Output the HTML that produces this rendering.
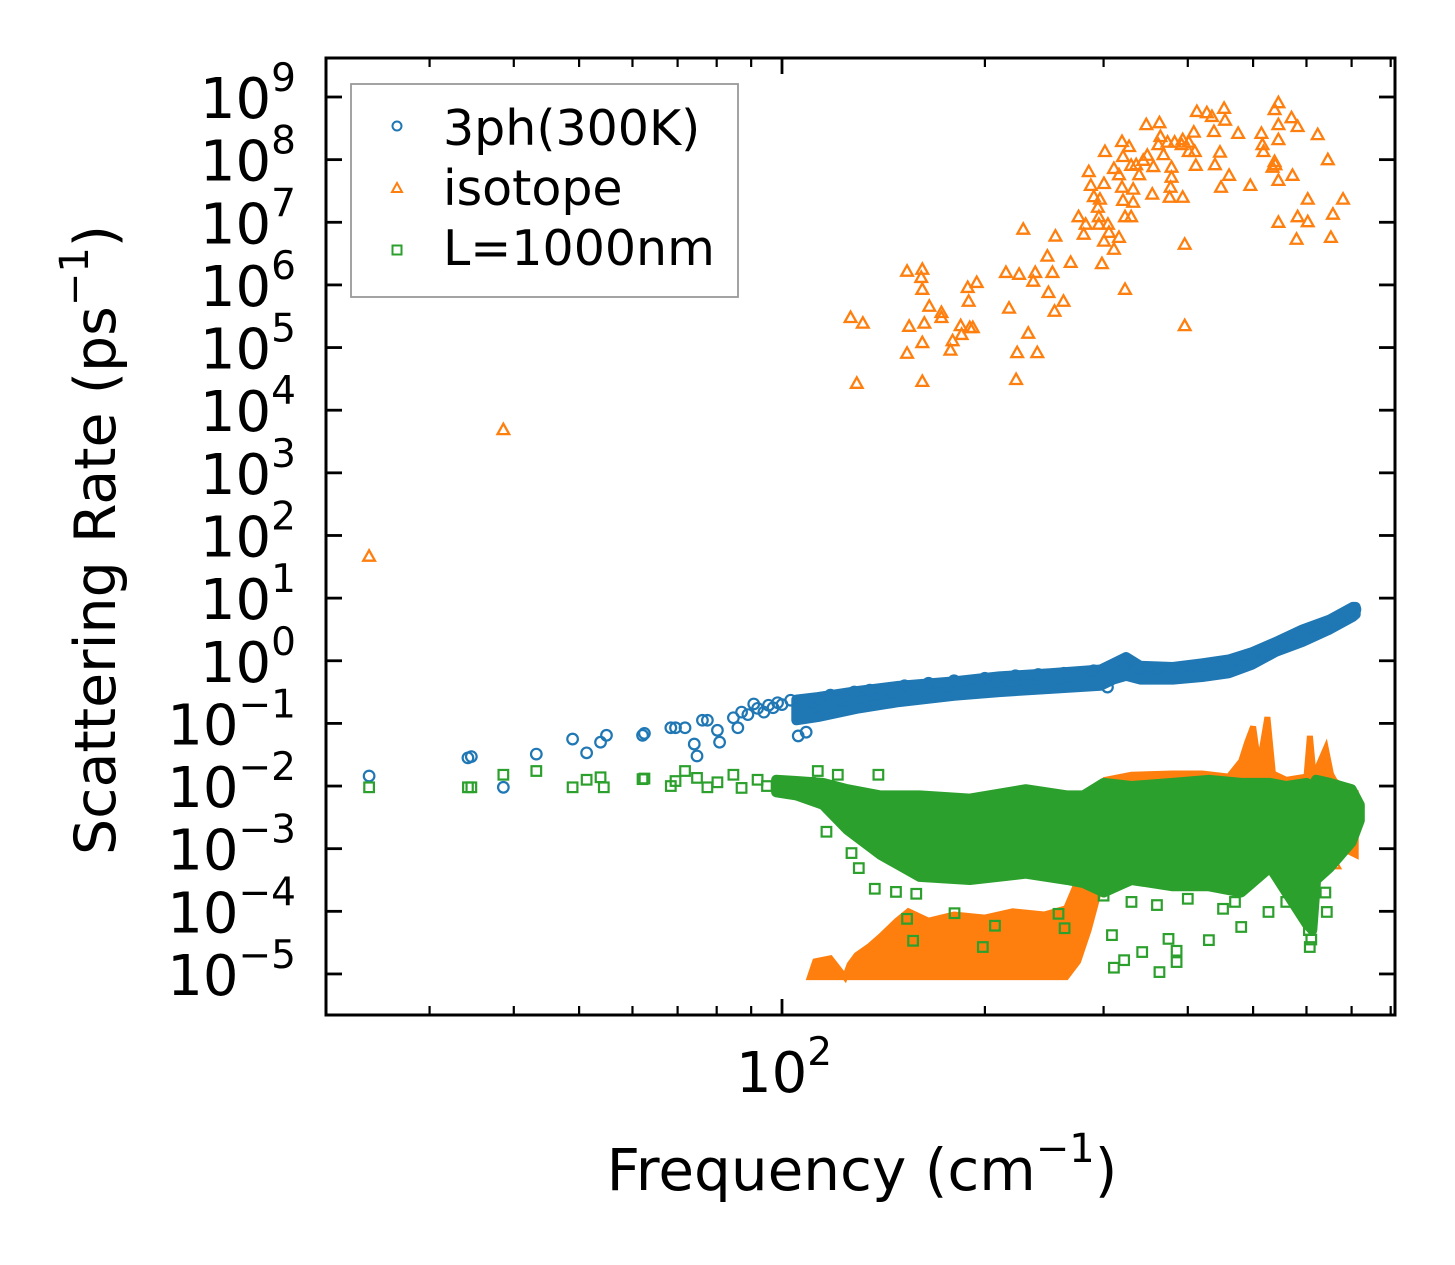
<!DOCTYPE html>
<html><head><meta charset="utf-8"><style>
html,body{margin:0;padding:0;background:#fff;}
svg{display:block;font-family:"DejaVu Sans","Liberation Sans",sans-serif;}
</style></head><body>
<svg id="chart" width="1455" height="1265" viewBox="0 0 1455 1265" xmlns="http://www.w3.org/2000/svg">
<rect width="1455" height="1265" fill="#fff"/>
<g id="marks"></g>
<g id="axes"></g>
</svg>
<script>
// ---- data (frequency in cm^-1, rate as log10 exponent) ----
const yTicks = [9,8,7,6,5,4,3,2,1,0,-1,-2,-3,-4,-5];
const xMinorTicks = [30,40,50,60,70,80,90,200,300,400,500,600,700,800];
const xMajorTicks = [100];
const seriesNames = ["3ph(300K)","isotope","L=1000nm"];

const blueF = [24.4,34.2,34.6,38.6,43.2,48.9,51.3,53.8,54.9,62.1,62.5,68.4,69.5,71.8,74.1,74.8,76.2,77.5,80.2,80.8,84.7,86,87.1,89.0,90.8,92,94.0,95.5,97.0,98.5,100,103,105.7,108.6,110,113.2,118,122,128,135,143,152,165,180,200,222,240,262,290,304,318,324,335,350,372,392,410,440,470,499,520,550,580,610,640,670,700,708];
const blueV = [-1.84,-1.55,-1.53,-2.02,-1.49,-1.25,-1.47,-1.30,-1.19,-1.19,-1.16,-1.07,-1.07,-1.07,-1.33,-1.52,-0.95,-0.95,-1.11,-1.30,-0.91,-1.07,-0.82,-0.86,-0.69,-0.76,-0.82,-0.71,-0.75,-0.67,-0.70,-0.63,-1.20,-1.14,-0.82,-0.63,-0.55,-0.62,-0.50,-0.47,-0.45,-0.40,-0.36,-0.32,-0.28,-0.24,-0.22,-0.20,-0.16,-0.42,-0.05,0.02,-0.12,-0.14,-0.16,-0.12,-0.10,-0.08,-0.02,0.05,0.12,0.24,0.36,0.48,0.55,0.66,0.80,0.82];
const blueBandF  = [105,113,130,149,180,210,250,297,310,324,340,380,420,460,499,540,592,650,703,710];
const blueBandHi = [-0.62,-0.58,-0.48,-0.40,-0.33,-0.25,-0.20,-0.14,-0.04,0.06,-0.08,-0.10,-0.04,0.02,0.14,0.30,0.50,0.66,0.86,0.86];
const blueBandLo = [-0.95,-0.90,-0.76,-0.66,-0.56,-0.50,-0.45,-0.40,-0.30,-0.24,-0.30,-0.30,-0.26,-0.20,-0.06,0.14,0.30,0.50,0.70,0.74];

const orangeF = [24.4,38.6,126.4,131.8,129.1,153.3,161.5,160.9,161.5,165.4,172.4,172.4,154.4,162.6,161.5,153.3,161.5,188.6,194.5,189.2,184.1,189.9,191.9,184.7,179.1,177.8,214.9,224.8,237.5,235.9,217.2,231.9,223.3,239.2,222.5,228.0,254.5,247.6,251.9,268.1,248.5,261.6,253.7,285.2,287.2,300.4,290.2,296.3,294.2,295.2,275.4,282.2,280.3,295.2,304.5,305.5,300.4,316.2,310.8,298.3,301.4,319.5,327.3,320.6,310.8,316.2,319.5,331.9,320.6,331.9,322.8,329.6,329.6,338.8,335.3,343.5,348.3,355.6,354.3,322.8,347.1,363.1,364.3,361.8,373.3,368.2,378.4,378.4,377.2,375.9,393.1,393.1,382.4,391.7,401.3,408.3,401.3,409.7,411.1,395.8,395.8,412.6,426.9,434.4,452.8,454.3,437.4,475.1,446.5,438.9,460.6,448.1,495.2,514.4,516.2,518.0,538.0,545.1,545.1,545.1,538.0,539.5,534.3,545.1,570.1,582.1,572.0,545.1,582.1,602.6,602.6,580.0,623.5,645.4,679.8,656.7,652.2,429.9,451.2,660,660,652];
const orangeV = [1.66,3.68,5.47,5.38,4.42,6.21,6.24,6.11,5.92,5.65,5.55,5.47,5.33,5.38,5.07,4.90,4.45,5.95,6.03,5.73,5.34,5.31,5.31,5.20,5.10,4.95,6.19,6.16,6.19,6.05,5.62,5.22,4.91,4.91,4.48,6.88,6.77,6.45,6.19,6.35,5.87,5.73,5.57,7.80,7.58,7.61,7.40,7.36,7.23,7.08,7.08,6.96,6.80,6.96,6.96,6.83,6.69,6.75,6.56,6.33,8.12,8.28,8.20,8.04,7.85,7.75,7.55,7.52,7.34,7.31,7.08,7.08,7.90,7.75,7.91,7.98,8.06,7.88,7.44,5.92,8.55,8.58,8.36,8.23,8.27,8.07,7.87,7.71,7.55,7.39,8.31,7.39,8.27,8.23,8.27,8.43,8.12,8.12,7.90,6.64,5.34,8.76,8.74,8.68,8.81,8.62,8.44,8.41,8.11,7.91,7.74,7.55,7.58,8.41,8.23,8.12,8.79,8.90,8.55,8.31,7.96,7.91,7.87,7.66,8.66,8.52,7.74,6.99,7.08,7.36,7.00,6.72,8.39,7.99,7.36,7.12,6.75,-1.95,-1.95,-3.10,-3.25,-1.85];
const orangeBandF  = [110,112,118,124,126,129,135,140,148,154,165,180,200,220,245,264,275,285,295,302,330,380,420,460,480,490,500,510,525,535,560,600,607,615,641,655,680,710];
const orangeBandHi = [-5.05,-4.80,-4.75,-5.05,-4.85,-4.70,-4.55,-4.40,-4.15,-4.00,-4.15,-4.05,-4.10,-4.00,-4.05,-3.95,-3.50,-3.00,-2.40,-1.90,-1.82,-1.80,-1.80,-1.85,-1.60,-1.30,-1.05,-1.70,-0.90,-1.80,-1.90,-1.85,-1.20,-1.85,-1.40,-1.90,-2.00,-2.10];
const orangeBandLo = [-5.05,-5.05,-5.05,-5.05,-5.05,-5.05,-5.05,-5.05,-5.05,-5.05,-5.05,-5.05,-5.05,-5.05,-5.05,-5.05,-4.80,-4.30,-3.70,-3.50,-3.40,-3.40,-3.30,-3.20,-3.00,-2.60,-2.50,-2.80,-2.60,-2.80,-2.90,-3.00,-2.80,-3.00,-3.10,-3.10,-3.00,-3.10];

const greenF = [24.4,34.2,34.6,38.6,43.2,48.9,51.3,53.8,54.4,62.1,62.5,68.4,69.5,71.8,74.8,77.5,80.2,84.7,87.1,92,95,100,105.7,110,113,117,121,125,139,116.4,126.8,130.0,137.3,147.6,158.2,153.3,156.5,180.3,198.6,207.0,257.2,262.6,308.7,310.8,321.8,342.3,363.1,374.5,385.0,385.0,429.9,451.2,480.1,527.0,606.8,643.2,605,610,300,330,360,400,470,560,590,640];
const greenV = [-2.02,-2.02,-2.02,-1.82,-1.76,-2.02,-1.90,-1.86,-2.02,-1.89,-1.88,-2.00,-1.92,-1.76,-1.87,-2.02,-1.94,-1.82,-2.03,-1.90,-2.00,-2.06,-2.00,-1.95,-1.76,-2.06,-1.82,-2.18,-1.82,-2.73,-3.07,-3.31,-3.64,-3.69,-3.72,-4.12,-4.47,-4.03,-4.57,-4.23,-4.04,-4.27,-4.38,-4.90,-4.78,-4.65,-4.97,-4.44,-4.63,-4.81,-4.46,-3.96,-4.25,-4.01,-4.57,-4.01,-4.30,-4.45,-3.75,-3.85,-3.90,-3.80,-3.85,-3.85,-3.80,-3.70];
const greenBandF  = [98,105,115,125,140,160,190,230,265,280,300,330,380,430,480,530,560,600,612,620,650,700,720];
const greenBandHi = [-1.90,-1.92,-1.95,-2.05,-2.15,-2.15,-2.20,-2.05,-2.15,-2.15,-1.95,-2.00,-1.95,-1.90,-1.95,-1.95,-2.00,-1.95,-2.00,-1.90,-1.95,-2.05,-2.30];
const greenBandLo = [-2.10,-2.15,-2.30,-2.70,-3.10,-3.45,-3.50,-3.40,-3.50,-3.55,-3.70,-3.50,-3.60,-3.60,-3.70,-3.30,-3.70,-4.20,-4.30,-3.50,-3.30,-2.90,-2.55];

// ---- axis functions ----
const PL=326, PR=1395, PT=58, PB=1015;
const X0=782, DEC_X=674;
const Y0=97, DEC_Y=62.64;
function xs(f){ return X0 + DEC_X*(Math.log10(f)-2); }
function ys(v){ return Y0 + DEC_Y*(9-v); }

const NS="http://www.w3.org/2000/svg";
function mk(tag, attrs, parent){
  const e=document.createElementNS(NS,tag);
  for(const k in attrs) e.setAttribute(k, attrs[k]);
  parent.appendChild(e); return e;
}
const marks=document.getElementById('marks');
const axes=document.getElementById('axes');
const BLUE="#1f77b4", ORANGE="#ff7f0e", GREEN="#2ca02c";

function bandPath(F,Hi,Lo){
  let d="";
  for(let i=0;i<F.length;i++) d+=(i?"L":"M")+xs(F[i]).toFixed(1)+","+ys(Hi[i]).toFixed(1);
  for(let i=F.length-1;i>=0;i--) d+="L"+xs(F[i]).toFixed(1)+","+ys(Lo[i]).toFixed(1);
  return d+"Z";
}
function circle(g,f,v){
  const c=mk('circle',{cx:xs(f),cy:ys(v),r:5.3,fill:'none',stroke:BLUE,'stroke-width':2.2},g);
  
  
}
function tri(g,f,v){
  const x=xs(f), y=ys(v), s=6.5;
  const p=mk('polygon',{points:`${x},${y-s} ${x-s*0.9},${y+s*0.6} ${x+s*0.9},${y+s*0.6}`,fill:'none',stroke:ORANGE,'stroke-width':2.3},g);
  
  
}
function sq(g,f,v){
  const x=xs(f), y=ys(v), s=4.8;
  const r=mk('rect',{x:x-s,y:y-s,width:2*s,height:2*s,fill:'none',stroke:GREEN,'stroke-width':2.2},g);
  
  
}

// blue series
const gB=mk('g',{},marks);


const bb=mk('path',{d:bandPath(blueBandF,blueBandHi,blueBandLo),fill:BLUE,stroke:BLUE,'stroke-width':10,'stroke-linejoin':'round'},gB);


for(let i=0;i<blueF.length;i++) circle(gB,blueF[i],blueV[i]);

// orange series
const gO=mk('g',{},marks);


const ob=mk('path',{d:bandPath(orangeBandF,orangeBandHi,orangeBandLo),fill:ORANGE,stroke:ORANGE,'stroke-width':6,'stroke-linejoin':'miter'},gO);


for(let i=0;i<orangeF.length;i++) tri(gO,orangeF[i],orangeV[i]);

// green series
const gG=mk('g',{},marks);


const gb=mk('path',{d:bandPath(greenBandF,greenBandHi,greenBandLo),fill:GREEN,stroke:GREEN,'stroke-width':10,'stroke-linejoin':'round'},gG);


for(let i=0;i<greenF.length;i++) sq(gG,greenF[i],greenV[i]);

// ---- axes ----
const frame=mk('rect',{x:PL,y:PT,width:PR-PL,height:PB-PT,fill:'none',stroke:'#000','stroke-width':3},axes);



yTicks.forEach(v=>{
  const y=ys(v);
  mk('line',{x1:PL,x2:PL+16,y1:y,y2:y,stroke:'#000','stroke-width':2.8},axes);
  mk('line',{x1:PR-16,x2:PR,y1:y,y2:y,stroke:'#000','stroke-width':2.8},axes);
  const t=mk('text',{x:296,y:y+21,'text-anchor':'end','font-size':56,fill:'#000'},axes);
  
  
  t.appendChild(document.createTextNode('10'));
  const ts=mk('tspan',{dy:-27,'font-size':39},t);
  ts.textContent=(v<0?'\u2212':'')+Math.abs(v);
});
xMinorTicks.forEach(f=>{
  const x=xs(f);
  mk('line',{x1:x,x2:x,y1:PB,y2:PB-9,stroke:'#000','stroke-width':2.2},axes);
  mk('line',{x1:x,x2:x,y1:PT,y2:PT+9,stroke:'#000','stroke-width':2.2},axes);
});
xMajorTicks.forEach(f=>{
  const x=xs(f);
  mk('line',{x1:x,x2:x,y1:PB,y2:PB-16,stroke:'#000','stroke-width':2.8},axes);
  mk('line',{x1:x,x2:x,y1:PT,y2:PT+16,stroke:'#000','stroke-width':2.8},axes);
  const t=mk('text',{x:x-46,y:1092,'font-size':56,fill:'#000'},axes);
  
  
  t.appendChild(document.createTextNode('10'));
  const ts=mk('tspan',{dy:-27,'font-size':39},t);
  ts.textContent=String(Math.round(Math.log10(f)));
});
</script>
<svg style="position:absolute;left:0;top:0" width="1455" height="1265" viewBox="0 0 1455 1265" xmlns="http://www.w3.org/2000/svg" font-family="DejaVu Sans, Liberation Sans, sans-serif">
<text x="862" y="1190" text-anchor="middle" font-size="58">Frequency (cm<tspan dy="-28" font-size="40">−1</tspan><tspan dy="28">)</tspan></text>
<text transform="translate(115,540) rotate(-90)" text-anchor="middle" font-size="57">Scattering Rate (ps<tspan dy="-27" font-size="40">−1</tspan><tspan dy="27">)</tspan></text>
<g>
<rect x="351" y="84" width="387" height="213" fill="#fff" stroke="#999" stroke-width="1.8"/>
<g>
<circle cx="397" cy="126" r="4.5" fill="none" stroke="#1f77b4" stroke-width="2"/>
<text x="443" y="145" font-size="49">3ph(300K)</text></g>
<g>
<polygon points="397,183 392,192 402,192" fill="none" stroke="#ff7f0e" stroke-width="2"/>
<text x="443" y="205" font-size="49">isotope</text></g>
<g>
<rect x="392.5" y="245.5" width="9" height="9" fill="none" stroke="#2ca02c" stroke-width="2"/>
<text x="443" y="265" font-size="49">L=1000nm</text></g>
</g>
</svg>
</body></html>
